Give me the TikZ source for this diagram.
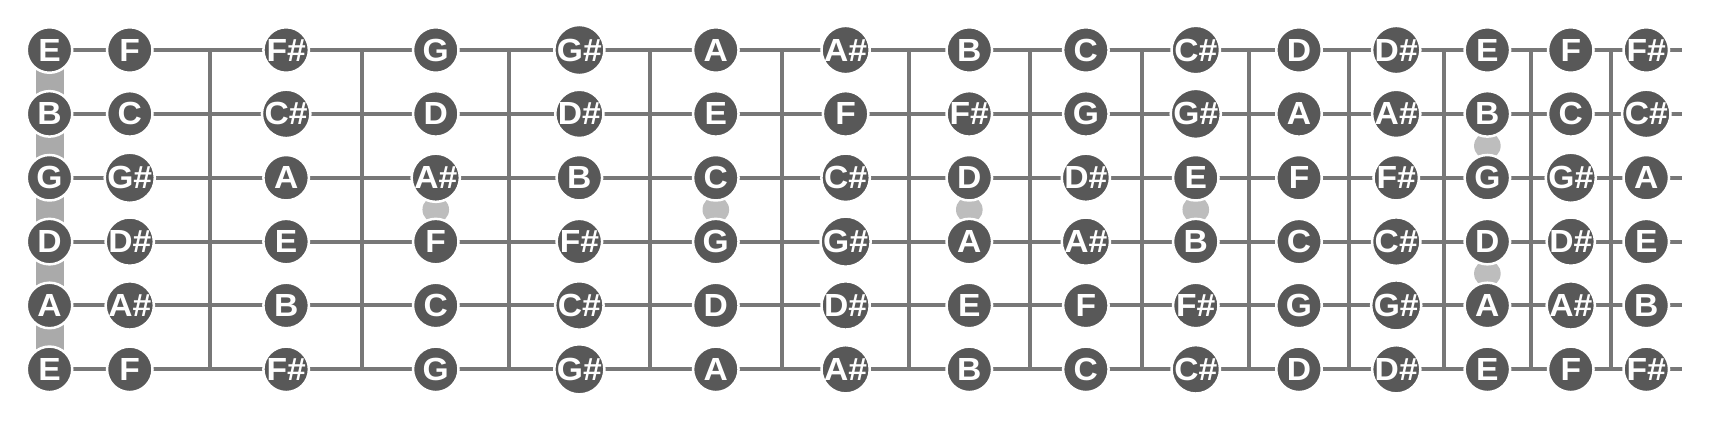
\documentclass[tikz,border=0pt]{standalone}
\usepackage{fontspec}
\setmainfont{Liberation Sans}[FakeStretch=1.05]
\usetikzlibrary{calc}

\definecolor{notefill}{HTML}{585858}
\definecolor{wiregrey}{HTML}{777777}
\definecolor{nutgrey}{HTML}{AAAAAA}
\definecolor{inlaygrey}{HTML}{BDBDBD}

% note name from a pitch class, 0 = C
\newcommand{\pitchname}[1]{\ifcase#1 C\or C\#\or D\or D\#\or E\or F\or F\#\or G\or G\#\or A\or A\#\or B\fi}

\begin{document}
\begin{tikzpicture}[
    x=0.5pt, y=-0.5pt,
    every node/.style={font=\fontsize{16}{16}\selectfont\bfseries},
    wire/.style={draw=wiregrey, line width=2pt},
    note/.style={circle, fill=notefill, draw=white, line width=1.25pt,
                 minimum size=22.75pt, inner sep=0pt, text=white},
    inlay/.style={circle, fill=inlaygrey, minimum size=13.3pt, inner sep=0pt},
]
    \useasboundingbox (0,0) rectangle (1732,420);

    % strings, top (high E) to bottom (low E)
    \foreach \s in {1,...,6} {
        \pgfmathsetmacro{\ys}{50 + 63.86*(\s-1)}
        \coordinate (s\s-a) at (49.5,\ys);
        \coordinate (s\s-b) at (1682,\ys);
        \draw[wire] (s\s-a) -- (s\s-b);
    }

    % frets
    \foreach \x [count=\f] in {210,362.3,509.2,649.5,782.1,909.1,1029.5,
                               1142.2,1249.3,1348.7,1443.7,1531.0,1610.5} {
        \coordinate (f\f-t) at (\x,50);
        \coordinate (f\f-b) at (\x,369.3);
        \draw[wire] (f\f-t) -- (f\f-b);
    }

    % nut
    \fill[nutgrey] (35.5,50) rectangle (64.3,369.3);

    % position markers
    \node[inlay] (dot3)  at (435.75,209.65) {};
    \node[inlay] (dot5)  at (715.8,209.65)  {};
    \node[inlay] (dot7)  at (969.3,209.65)  {};
    \node[inlay] (dot9)  at (1195.75,209.65) {};
    \node[inlay] (dot12a) at (1487.35,145.79) {};
    \node[inlay] (dot12b) at (1487.35,273.51) {};

    % notes: open string, then one per fret (midway between frets)
    \foreach \open [count=\s] in {4,11,7,2,9,4} {
        \pgfmathsetmacro{\ys}{50 + 63.86*(\s-1)}
        \foreach \x [count=\f from 0, remember=\x as \px (initially 49.5)] in
            {49.5,210,362.3,509.2,649.5,782.1,909.1,1029.5,1142.2,1249.3,
             1348.7,1443.7,1531.0,1610.5,1682} {
            \pgfmathsetmacro{\xc}{(\px+\x)/2}
            \pgfmathtruncatemacro{\pc}{mod(\open+\f,12)}
            \node[note] (n\s-\f) at (\xc,\ys) {\pitchname{\pc}};
        }
    }
\end{tikzpicture}
\end{document}
